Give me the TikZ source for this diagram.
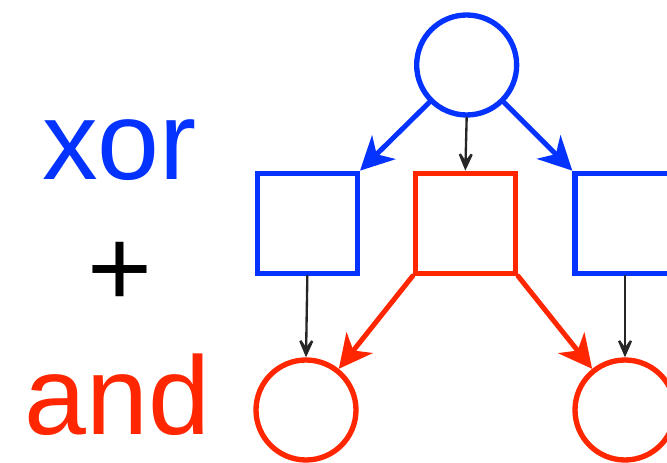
\documentclass[tikz,border=0pt]{standalone}
\usepackage{fontspec}
\setmainfont{Liberation Sans}
\usepackage{xcolor}
\usepackage{tikz}
\usetikzlibrary{arrows.meta,positioning}
\definecolor{xorblue}{HTML}{0433FF}
\definecolor{andred}{HTML}{FF2600}

\begin{document}
\begin{tikzpicture}[
    x=1cm,y=1cm,
    >=Latex,
    line cap=round,
    line join=miter,
    place/.style={circle, draw, line width=0.16cm, fill=white, minimum size=3.0cm, inner sep=0pt},
    gate/.style={rectangle, draw, line width=0.16cm, fill=white, minimum size=3.0cm, inner sep=0pt},
    bigflow/.style={-{Stealth[length=1.0cm,width=1.0cm,inset=0.3cm]}, line width=0.15cm},
    thinflow/.style={-{Stealth[open,length=0.8cm,width=0.7cm,inset=0.5cm]}, line width=0.07cm, draw=black!85},
    word/.style={font=\fontsize{95}{95}\selectfont, inner sep=0pt, anchor=base}
]
\useasboundingbox (0,0) rectangle (20.01,13.89);

% Labels
\node[word, text=xorblue] (xorlabel)  at (3.585,8.49) {xor};
\node[word, text=black]   (pluslabel) at (3.6,4.68)   {+};
\node[word, text=andred]  (andlabel)  at (3.525,0.84) {and};

% Places and gates
\node[place, draw=xorblue] (start) at (14.0,11.94) {};
\node[gate, draw=xorblue]  (lsq)   at (9.22,7.19)  {};
\node[gate, draw=andred]   (mid)   at (13.96,7.19) {};
\node[gate, draw=xorblue]  (rsq)   at (18.75,7.19) {};
\node[place, draw=andred]  (lout)  at (9.18,1.59)  {};
\node[place, draw=andred]  (rout)  at (18.75,1.59) {};

% Top fan-out
\draw[bigflow, draw=xorblue, fill=xorblue] (start.south west) -- (lsq.north east);
\draw[bigflow, draw=xorblue, fill=xorblue] (start.south east) -- (rsq.north west);
\draw[thinflow] (start.south) -- (mid.north);

% Bottom
\draw[thinflow] (lsq.south) -- (lout.north);
\draw[thinflow] (rsq.south) -- (rout.north);
\draw[bigflow, draw=andred, fill=andred] (mid.south west) -- (lout);
\draw[bigflow, draw=andred, fill=andred] (mid.south east) -- (rout);

\end{tikzpicture}
\end{document}
